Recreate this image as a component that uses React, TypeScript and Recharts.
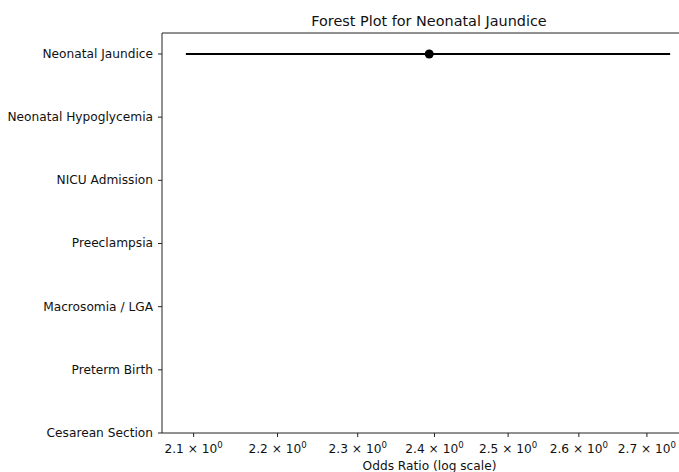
import React from "react";
import {
  ScatterChart,
  Scatter,
  XAxis,
  YAxis,
  ErrorBar,
  ReferenceLine,
  Label,
} from "recharts";

// Categories bottom-to-top (y = index)
const categories = [
  "Cesarean Section",
  "Preterm Birth",
  "Macrosomia / LGA",
  "Preeclampsia",
  "NICU Admission",
  "Neonatal Hypoglycemia",
  "Neonatal Jaundice",
];
// Odds ratios and 95% CIs (only Neonatal Jaundice has an estimate)
const oddsRatios: (number | null)[] = [null, null, null, null, null, null, 2.393];
const lowerCI: (number | null)[] = [null, null, null, null, null, null, 2.091];
const upperCI: (number | null)[] = [null, null, null, null, null, null, 2.735];

const xTicks = [2.1, 2.2, 2.3, 2.4, 2.5, 2.6, 2.7];
const yTicks = [0, 1, 2, 3, 4, 5, 6];
const xDomain: [number, number] = [2.0635, 2.776];
const yDomain: [number, number] = [0, 6.332];

const data = categories
  .map((c, i) => ({
    name: c,
    y: i,
    or: oddsRatios[i],
    err:
      oddsRatios[i] != null
        ? [oddsRatios[i]! - lowerCI[i]!, upperCI[i]! - oddsRatios[i]!]
        : null,
  }))
  .filter((d) => d.or != null);

const FONT = "DejaVu Sans, sans-serif";
const SPINE = "#222";

const XTick = (props: any) => {
  const { x, y, payload } = props;
  return (
    <g transform={`translate(${x},${y})`}>
      <text x={0} y={0} dy={14} textAnchor="middle" fontFamily={FONT} fontSize={12.2} fill="#111">
        <tspan>{`${payload.value.toFixed(1)} × 10`}</tspan>
        <tspan fontSize={8.6} dy={-5}>0</tspan>
      </text>
    </g>
  );
};

const YTick = (props: any) => {
  const { x, y, payload } = props;
  return (
    <text x={x - 3} y={y} dy={4} textAnchor="end" fontFamily={FONT} fontSize={12.2} fill="#111">
      {categories[payload.value]}
    </text>
  );
};

export default function App() {
  return (
    <div style={{ position: "fixed", left: 0, top: 0, width: 679, height: 472, overflow: "hidden", background: "#fff" }}>
      <ScatterChart width={679} height={472} margin={{ top: 33, right: -18, bottom: 0, left: 0 }}>
        <text x={429} y={26} textAnchor="middle" fontFamily={FONT} fontSize={14.4} fill="#111">
          Forest Plot for Neonatal Jaundice
        </text>
        <XAxis type="number" dataKey="or" scale="log" domain={xDomain} allowDataOverflow ticks={xTicks}
          tick={<XTick />} tickSize={4} tickLine={{ stroke: SPINE }} axisLine={{ stroke: SPINE }} height={39} interval={0}>
          <Label value="Odds Ratio (log scale)" position="insideBottom" offset={2}
            style={{ fontFamily: FONT, fontSize: 12.2, fill: "#111" }} />
        </XAxis>
        <YAxis type="number" dataKey="y" domain={yDomain} allowDataOverflow ticks={yTicks}
          tick={<YTick />} tickSize={4} tickLine={{ stroke: SPINE }} axisLine={{ stroke: SPINE }} width={162} interval={0} />
        <ReferenceLine y={yDomain[1]} stroke={SPINE} ifOverflow="visible" />
        <Scatter data={data} fill="#000" isAnimationActive={false}
          shape={(p: any) => <circle cx={p.cx} cy={p.cy} r={4.5} fill="#000" />}>
          <ErrorBar dataKey="err" direction="x" width={0} stroke="#000" strokeWidth={2} />
        </Scatter>
      </ScatterChart>
    </div>
  );
}
